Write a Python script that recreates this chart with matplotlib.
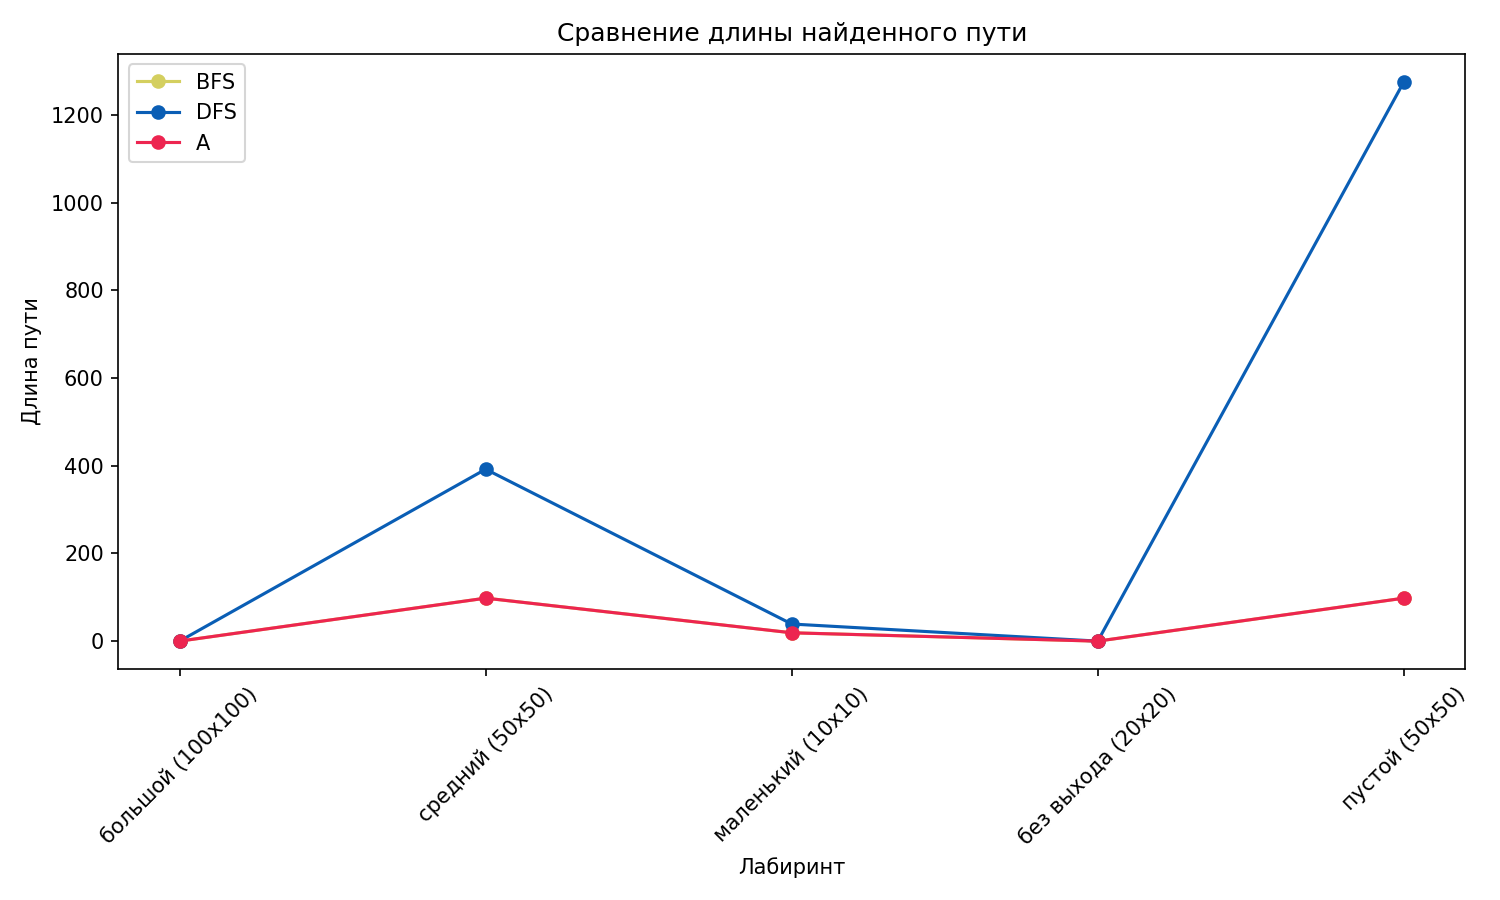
import matplotlib
matplotlib.use("Agg")
import matplotlib.pyplot as plt

labels = ["большой (100x100)", "средний (50x50)", "маленький (10x10)", "без выхода (20x20)", "пустой (50x50)"]
bfs = [0, 98, 19, 0, 98]
dfs = [0, 392, 39, 0, 1275]
astar = [0, 98, 19, 0, 98]

fig, ax = plt.subplots(figsize=(10, 6), dpi=150)
ax.plot(labels, bfs, marker="o", color="#d4cf5f", label="BFS")
ax.plot(labels, dfs, marker="o", color="#0a5eb5", label="DFS")
ax.plot(labels, astar, marker="o", color="#ed2550", label="A")
ax.set_title("Сравнение длины найденного пути")
ax.set_xlabel("Лабиринт")
ax.set_ylabel("Длина пути")
ax.legend(loc="upper left")
plt.setp(ax.get_xticklabels(), rotation=45)
fig.tight_layout()
fig.savefig("out.png")
